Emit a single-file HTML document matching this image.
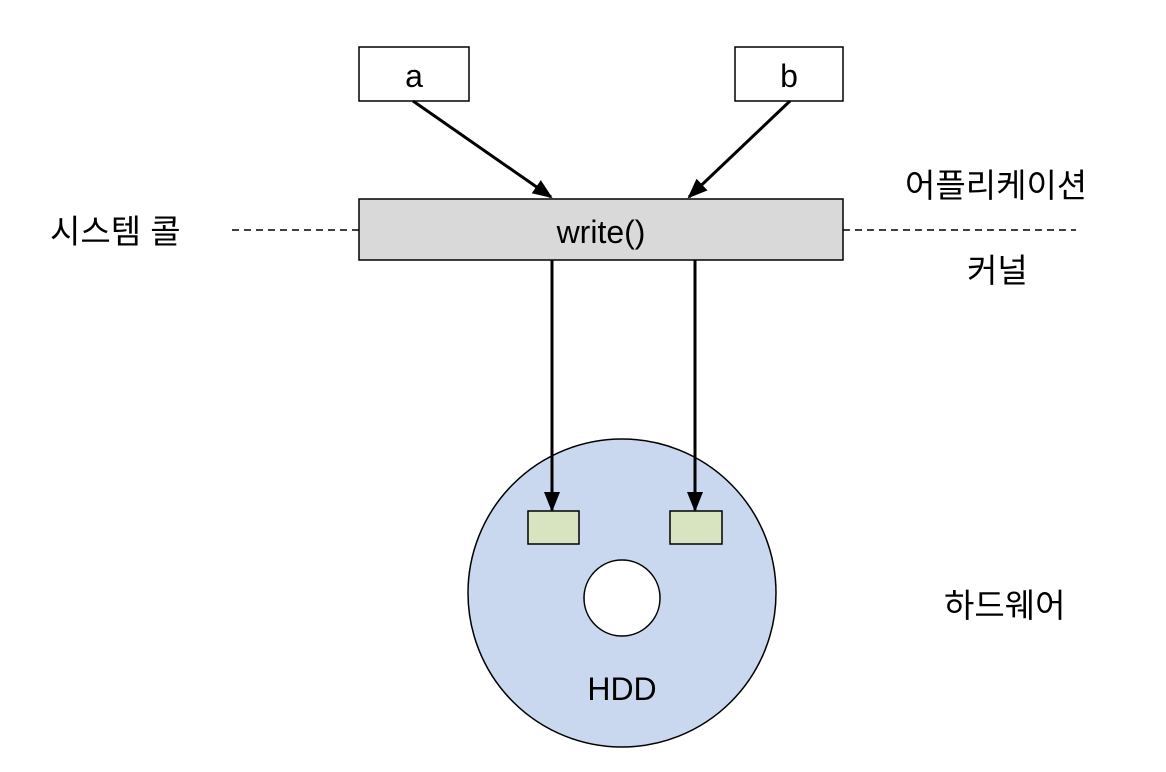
<!DOCTYPE html>
<html><head><meta charset="utf-8"><style>
html,body{margin:0;padding:0;background:#fff;}
svg{display:block;}
text{font-family:"Liberation Sans","Noto Sans CJK KR","NanumGothic",sans-serif;fill:#000;}
</style></head><body>
<svg width="1166" height="772" viewBox="0 0 1166 772" xmlns="http://www.w3.org/2000/svg">
<defs>
<marker id="ah" markerWidth="10" markerHeight="10" refX="9" refY="5" orient="auto" markerUnits="userSpaceOnUse" viewBox="0 0 10 10">
<path d="M0,0 L10,5 L0,10 z" fill="#000"/>
</marker>
<marker id="ah2" markerWidth="20" markerHeight="20" refX="18" refY="10" orient="auto" markerUnits="userSpaceOnUse" viewBox="0 0 20 20">
<path d="M0,2 L20,10 L0,18 z" fill="#000"/>
</marker>
</defs>
<rect x="359" y="47" width="110" height="54" fill="#fff" stroke="#000" stroke-width="1.5"/>
<text x="414" y="87" font-size="32" text-anchor="middle">a</text>
<rect x="735" y="47" width="108" height="54" fill="#fff" stroke="#000" stroke-width="1.5"/>
<text x="789" y="87" font-size="32" text-anchor="middle">b</text>
<line x1="232" y1="230" x2="359" y2="230" stroke="#000" stroke-width="1.5" stroke-dasharray="7,5"/>
<line x1="843" y1="230" x2="1076" y2="230" stroke="#000" stroke-width="1.5" stroke-dasharray="7,5"/>
<rect x="359" y="199" width="484" height="61" fill="#d9d9d9" stroke="#000" stroke-width="1.5"/>
<text x="601" y="243" font-size="32" text-anchor="middle">write()</text>
<line x1="413" y1="101" x2="551" y2="197" stroke="#000" stroke-width="3" marker-end="url(#ah2)"/>
<line x1="790" y1="101" x2="689" y2="197" stroke="#000" stroke-width="3" marker-end="url(#ah2)"/>
<circle cx="622" cy="593" r="154" fill="#c9d8ee" stroke="#000" stroke-width="1.5"/>
<circle cx="622" cy="598" r="38" fill="#fff" stroke="#000" stroke-width="1.5"/>
<rect x="528" y="511" width="51" height="33" fill="#d8e4bf" stroke="#000" stroke-width="1.5"/>
<rect x="670" y="511" width="52" height="33" fill="#d8e4bf" stroke="#000" stroke-width="1.5"/>
<line x1="552" y1="260" x2="552" y2="510" stroke="#000" stroke-width="3" marker-end="url(#ah2)"/>
<line x1="695" y1="260" x2="695" y2="510" stroke="#000" stroke-width="3" marker-end="url(#ah2)"/>
<text x="622" y="700" font-size="32" text-anchor="middle">HDD</text>
<text x="50" y="243" font-size="33">시스템 콜</text>
<text x="905" y="197" font-size="33">어플리케이션</text>
<text x="967" y="282" font-size="33">커널</text>
<text x="944" y="617" font-size="33">하드웨어</text>
</svg>
</body></html>
